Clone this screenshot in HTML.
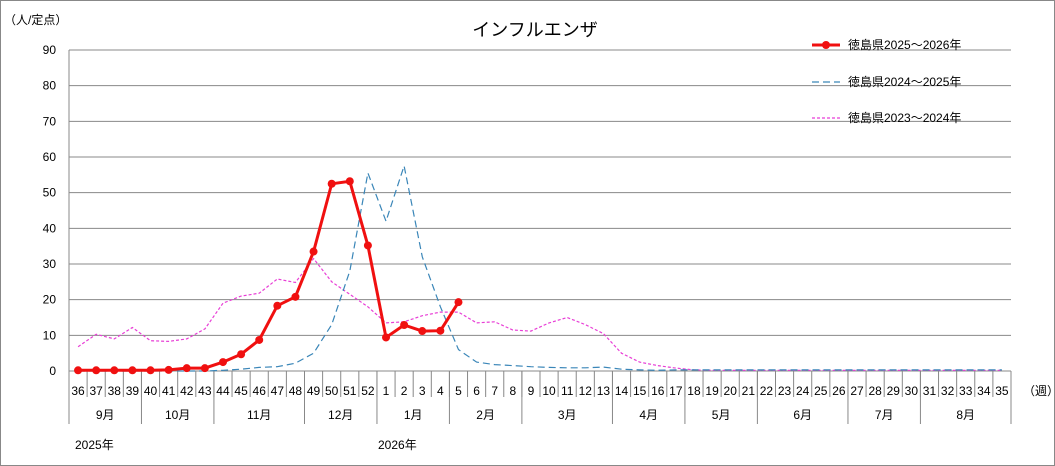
<!DOCTYPE html>
<html><head><meta charset="utf-8"><style>
body{margin:0;background:#fff}
svg{display:block;font-family:"Liberation Sans","Noto Sans CJK JP",sans-serif}
</style></head><body>
<svg id="s" width="1055" height="466" xmlns="http://www.w3.org/2000/svg"></svg>
<script>
const s=document.getElementById('s');let h='';
h+='<rect x="0.5" y="0.5" width="1054" height="465" fill="#fff" stroke="#888"/>';
const L=69,R=1011,Y0=371,k=(371-50)/90,W=(R-L)/52;
const X=i=>L+W*(i+0.5), Y=v=>Y0-v*k;
for(let v=0;v<=90;v+=10){const y=Y(v);h+=`<line x1="${L}" x2="${R}" y1="${y}" y2="${y}" stroke="${v?'#888':'#888'}" stroke-width="1"/>`;
h+=`<text x="56" y="${y+4}" font-size="12" text-anchor="end">${v}</text>`;}
h+=`<line x1="${L}" x2="${L}" y1="50" y2="424" stroke="#888"/>`;
const wk=[];for(let w=36;w<=52;w++)wk.push(w);for(let w=1;w<=35;w++)wk.push(w);
wk.forEach((w,i)=>{h+=`<text x="${X(i)}" y="395" font-size="12" text-anchor="middle">${w}</text>`;h+=`<line x1="${L+W*(i+1)}" x2="${L+W*(i+1)}" y1="371" y2="397" stroke="#888"/>`;});
const mb=[0,4,8,13,17,21,25,30,34,38,43,47,52],mn=['9月','10月','11月','12月','1月','2月','3月','4月','5月','6月','7月','8月'];
mb.forEach(b=>{h+=`<line x1="${L+W*b}" x2="${L+W*b}" y1="371" y2="424" stroke="#888"/>`;});
mn.forEach((m,j)=>{h+=`<text x="${L+W*(mb[j]+mb[j+1])/2}" y="419" font-size="12" text-anchor="middle">${m}</text>`;});
h+=`<text x="75" y="449" font-size="12">2025年</text><text x="378" y="449" font-size="12">2026年</text>`;
h+=`<text x="1023" y="395" font-size="12">（週）</text><text x="4" y="24" font-size="12">（人/定点）</text>`;
h+=`<text x="535" y="36" font-size="18" text-anchor="middle">インフルエンザ</text>`;
const pink=[6.8,10.3,9,12.2,8.5,8.3,9,11.8,19,21,21.8,25.8,24.8,31.5,25,21.5,18,13.5,13.8,15.5,16.5,16.5,13.5,13.8,11.5,11.2,13.5,15,13,10.5,5,2.5,1.5,0.8,0.3];
while(pink.length<52)pink.push(0.2);
const blue=[0,0,0,0,0,0,0,0,0.2,0.5,1,1.2,2.2,5,13,28,55.5,42,57.5,32,18,6,2.5,1.8,1.5,1.2,1,0.9,0.9,1.1,0.5,0.3,0.2];
while(blue.length<52)blue.push(0.3);
const red=[0.2,0.2,0.2,0.2,0.2,0.3,0.8,0.8,2.5,4.7,8.7,18.3,20.8,33.5,52.5,53.2,35.2,9.4,12.9,11.2,11.3,19.3];
const P=a=>a.map((v,i)=>X(i).toFixed(1)+','+Y(v).toFixed(1)).join(' ');
h+=`<polyline points="${P(pink)}" fill="none" stroke="#e83fd6" stroke-width="1.2" stroke-dasharray="3,2"/>`;
h+=`<polyline points="${P(blue)}" fill="none" stroke="#3a86b8" stroke-width="1.2" stroke-dasharray="7,4"/>`;
h+=`<polyline points="${P(red)}" fill="none" stroke="#f01010" stroke-width="3"/>`;
red.forEach((v,i)=>{h+=`<circle cx="${X(i)}" cy="${Y(v)}" r="4" fill="#f01010"/>`;});
h+=`<line x1="812" x2="840" y1="45" y2="45" stroke="#f01010" stroke-width="3"/><circle cx="826" cy="45" r="4" fill="#f01010"/><text x="848" y="49" font-size="12">徳島県2025～2026年</text>`;
h+=`<line x1="812" x2="840" y1="82" y2="82" stroke="#3a86b8" stroke-width="1.2" stroke-dasharray="7,4"/><text x="848" y="86" font-size="12">徳島県2024～2025年</text>`;
h+=`<line x1="812" x2="840" y1="118" y2="118" stroke="#e83fd6" stroke-width="1.2" stroke-dasharray="3,2"/><text x="848" y="122" font-size="12">徳島県2023～2024年</text>`;
s.innerHTML=h;
</script>
</body></html>
